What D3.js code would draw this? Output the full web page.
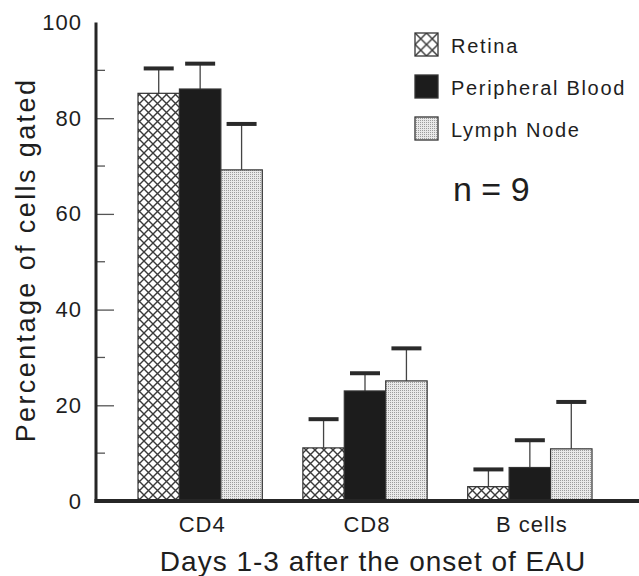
<!DOCTYPE html>
<meta charset="utf-8">
<head>
    <title>Percentage of cells gated, days 1-3 after onset of EAU</title>
    <style>
        body { margin: 0; background: #fff; }
        text { font-family: "Liberation Sans", Arial, sans-serif; fill: #1e1e1e; }
    </style>
</head>
<body>
<script src="https://d3js.org/d3.v7.min.js"></script>
<script>
    // data (mean and top of SD bar given as +err)
    var categories = ["CD4", "CD8", "B cells"];
    var series = ["Retina", "Peripheral Blood", "Lymph Node"];
    var retina = [85.2, 11.1, 3.0];
    var retinaErr = [5.2, 6.0, 3.6];
    var blood = [86.1, 23.0, 7.0];
    var bloodErr = [5.3, 3.7, 5.7];
    var lymph = [69.2, 25.1, 10.9];
    var lymphErr = [9.6, 6.8, 9.8];
    var majorTicks = [0, 20, 40, 60, 80, 100];
    var minorTicks = [10, 30, 50, 70, 90];

    var width = 639, height = 576;
    var svg = d3.select("body").append("svg")
        .attr("width", width)
        .attr("height", height);

    // patterns
    var defs = svg.append("defs");
    var hatch = defs.append("pattern").attr("id", "hatch")
        .attr("patternUnits", "userSpaceOnUse")
        .attr("width", 9).attr("height", 9);
    hatch.append("rect").attr("width", 9).attr("height", 9).attr("fill", "#fff");
    hatch.append("path").attr("d", "M0,0L9,9M9,0L0,9")
        .attr("stroke", "#3a3a3a").attr("stroke-width", 1.4);

    var hatchBig = defs.append("pattern").attr("id", "hatchBig")
        .attr("patternUnits", "userSpaceOnUse")
        .attr("x", 415).attr("y", 33)
        .attr("width", 11.5).attr("height", 11.5);
    hatchBig.append("rect").attr("width", 11.5).attr("height", 11.5).attr("fill", "#fff");
    hatchBig.append("path").attr("d", "M0,0L11.5,11.5M11.5,0L0,11.5")
        .attr("stroke", "#3a3a3a").attr("stroke-width", 1.5);

    var dots = defs.append("pattern").attr("id", "dots")
        .attr("patternUnits", "userSpaceOnUse")
        .attr("width", 2).attr("height", 2);
    dots.append("rect").attr("width", 2).attr("height", 2).attr("fill", "#e9e9e9");
    dots.append("rect").attr("width", 1).attr("height", 1).attr("fill", "#9c9c9c");

    var fills = ["url(#hatch)", "#1c1c1c", "url(#dots)"];
    var legendFills = ["url(#hatchBig)", "#1c1c1c", "url(#dots)"];

    // scales
    var y = d3.scaleLinear().domain([0, 100]).range([501, 22.5]);
    var x0 = d3.scaleBand().domain(categories).range([138, 592])
        .paddingInner(0.246).paddingOuter(0);
    var x1 = d3.scaleBand().domain(series).range([0, x0.bandwidth()]).padding(0);

    var rows = [];
    categories.forEach(function (c, i) {
        rows.push({cat: c, s: series[0], v: retina[i], e: retinaErr[i], k: 0});
        rows.push({cat: c, s: series[1], v: blood[i], e: bloodErr[i], k: 1});
        rows.push({cat: c, s: series[2], v: lymph[i], e: lymphErr[i], k: 2});
    });

    // error bars (behind bars)
    var err = svg.append("g");
    err.selectAll("line.stem").data(rows).enter().append("line")
        .attr("class", "stem")
        .attr("x1", d => x0(d.cat) + x1(d.s) + x1.bandwidth() / 2)
        .attr("x2", d => x0(d.cat) + x1(d.s) + x1.bandwidth() / 2)
        .attr("y1", d => y(d.v))
        .attr("y2", d => y(d.v + d.e))
        .attr("stroke", "#444").attr("stroke-width", 1.3);
    err.selectAll("line.cap").data(rows).enter().append("line")
        .attr("class", "cap")
        .attr("x1", d => x0(d.cat) + x1(d.s) + x1.bandwidth() / 2 - 15)
        .attr("x2", d => x0(d.cat) + x1(d.s) + x1.bandwidth() / 2 + 15)
        .attr("y1", d => y(d.v + d.e))
        .attr("y2", d => y(d.v + d.e))
        .attr("stroke", "#2a2a2a").attr("stroke-width", 4);

    // bars
    svg.append("g").selectAll("rect").data(rows).enter().append("rect")
        .attr("x", d => x0(d.cat) + x1(d.s))
        .attr("y", d => y(d.v))
        .attr("width", x1.bandwidth())
        .attr("height", d => y(0) - y(d.v))
        .attr("fill", d => fills[d.k])
        .attr("stroke", "#333")
        .attr("stroke-width", 1.2);

    // y axis
    var yAxis = svg.append("g").attr("transform", "translate(96,0)")
        .call(d3.axisLeft(y).tickValues(majorTicks).tickSize(-18).tickPadding(14)
            .tickFormat(d3.format("d")));
    yAxis.select(".domain").remove();
    yAxis.selectAll(".tick line").attr("stroke", "#555").attr("stroke-width", 1.3)
        .filter(d => d === 0 || d === 100).remove();
    yAxis.selectAll(".tick text")
        .style("font-size", "22px").style("letter-spacing", "1px")
        .style("font-family", "'Liberation Sans', Arial, sans-serif")
        .attr("fill", "#1e1e1e");

    svg.append("g").attr("transform", "translate(96,0)")
        .selectAll("line").data(minorTicks).enter().append("line")
        .attr("x1", 0).attr("x2", 9)
        .attr("y1", d => y(d)).attr("y2", d => y(d))
        .attr("stroke", "#555").attr("stroke-width", 1.3);

    svg.append("line")
        .attr("x1", 96).attr("x2", 96)
        .attr("y1", y(100)).attr("y2", y(0) + 2)
        .attr("stroke", "#262626").attr("stroke-width", 3);
    svg.append("line")
        .attr("x1", 94.5).attr("x2", width)
        .attr("y1", y(0)).attr("y2", y(0))
        .attr("stroke", "#262626").attr("stroke-width", 4);

    // category labels
    svg.append("g").selectAll("text").data(categories).enter().append("text")
        .attr("x", d => x0(d) + x0.bandwidth() / 2 + 2)
        .attr("y", 532)
        .attr("text-anchor", "middle")
        .style("font-size", "22px").style("letter-spacing", "1px")
        .text(d => d);

    // axis titles
    svg.append("text")
        .attr("x", 373).attr("y", 571)
        .attr("text-anchor", "middle")
        .style("font-size", "28px").style("letter-spacing", "1px")
        .text("Days 1-3 after the onset of EAU");

    svg.append("text")
        .attr("transform", "translate(35,260) rotate(-90)")
        .attr("text-anchor", "middle")
        .style("font-size", "27px").style("letter-spacing", "2.4px")
        .text("Percentage of cells gated");

    // legend
    var legend = svg.append("g");
    series.forEach(function (s, i) {
        legend.append("rect")
            .attr("x", 415).attr("y", 33 + i * 42)
            .attr("width", 23).attr("height", 23)
            .attr("fill", legendFills[i])
            .attr("stroke", "#333").attr("stroke-width", 1.3);
        legend.append("text")
            .attr("x", 451).attr("y", 53 + i * 42)
            .style("font-size", "20px").style("letter-spacing", "1.7px")
            .text(s);
    });

    svg.append("text")
        .attr("x", 453).attr("y", 201)
        .style("font-size", "34px")
        .text("n = 9");
</script>
</body>
